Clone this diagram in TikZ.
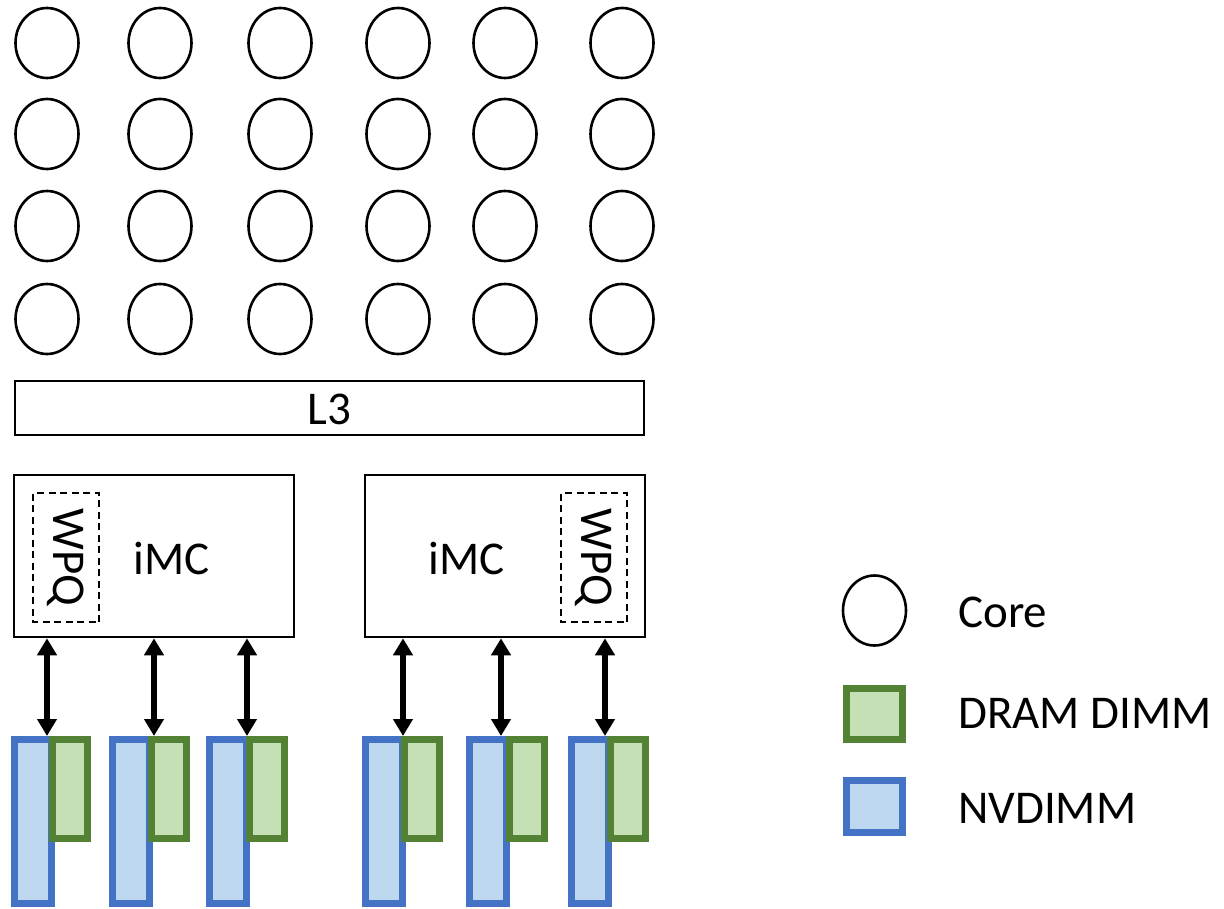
\documentclass[tikz,border=0pt]{standalone}
\usepackage{fontspec}
\setmainfont{Carlito}
\usetikzlibrary{shapes.geometric,arrows.meta}
\definecolor{nvline}{HTML}{4472C4}
\definecolor{nvfill}{HTML}{BDD7EE}
\definecolor{drline}{HTML}{548235}
\definecolor{drfill}{HTML}{C5E0B4}
\tikzset{
  core/.style={ellipse, draw, line width=2.6pt, minimum width=63pt, minimum height=70pt, inner sep=0pt},
  box/.style={rectangle, draw, line width=2.6pt, inner sep=0pt},
  wpq/.style={rectangle, draw, dash pattern=on 7pt off 4.5pt, line width=2.2pt, rotate=-90,
              minimum width=129pt, minimum height=66pt, inner sep=0pt, font=\fontsize{47}{50}\selectfont},
  nvdimm/.style={rectangle, draw=nvline, fill=nvfill, line width=7pt, minimum width=37pt, minimum height=164pt, inner sep=0pt},
  dram/.style={rectangle, draw=drline, fill=drfill, line width=7pt, minimum width=35pt, minimum height=99pt, inner sep=0pt},
  link/.style={line width=5.5pt, {Triangle[width=19pt,length=17pt]}-{Triangle[width=19pt,length=17pt]}},
  lbl/.style={inner sep=0pt, font=\fontsize{47}{50}\selectfont},
}
\begin{document}
\begin{tikzpicture}[x=1pt,y=-1pt]
\useasboundingbox (0,0) rectangle (1224,909);

% grid of cores
\foreach \cx [count=\i] in {47,160,280,398,505,622}{
  \foreach \cy [count=\j] in {43,134,226,319}{
    \node[core] (core-\j-\i) at (\cx,\cy) {};
  }
}

% shared cache
\node[box, minimum width=629pt, minimum height=54pt] (l3) at (329.5,408) {};
\node[lbl] (l3txt) at (329.5,409) {L3};

% memory controllers
\node[box, minimum width=280pt, minimum height=162pt] (imcL) at (154,556) {};
\node[box, minimum width=280pt, minimum height=162pt] (imcR) at (505,556) {};
\node[lbl] (imcLtxt) at (172,558) {iMC};
\node[lbl] (imcRtxt) at (467,558) {iMC};
\node[wpq] (wpqL) at (66,557.5) {WPQ};
\node[wpq] (wpqR) at (594,557.5) {WPQ};

% NVDIMMs
\foreach \x [count=\k] in {32.5,131,228,384,488,590}{
  \node[nvdimm] (nv\k) at (\x,821.5) {};
}
% DRAM DIMMs
\foreach \x [count=\k] in {70,169,266.5,422,526.5,628}{
  \node[dram] (dr\k) at (\x,789) {};
}

% channels between controllers and DIMMs
\foreach \x [count=\k] in {47,154,247}{
  \coordinate (ch\k) at (\x,0);
  \draw[link] (imcL.south -| ch\k) -- (nv\k.north -| ch\k);
}
\foreach \x [count=\k from 4] in {403,501,605}{
  \coordinate (ch\k) at (\x,0);
  \draw[link] (imcR.south -| ch\k) -- (nv\k.north -| ch\k);
}

% legend
\node[core] (legcore) at (874.5,610.5) {};
\node[dram, minimum width=56pt, minimum height=51pt] (legdram) at (874.5,714) {};
\node[nvdimm, minimum width=56pt, minimum height=52pt] (legnv) at (874.5,806.5) {};
\node[lbl, anchor=base west] (legcoretxt) at (958,627) {Core};
\node[lbl, anchor=base west] (legdramtxt) at (958,728) {DRAM DIMM};
\node[lbl, anchor=base west] (legnvtxt) at (958,823) {NVDIMM};
\end{tikzpicture}
\end{document}
